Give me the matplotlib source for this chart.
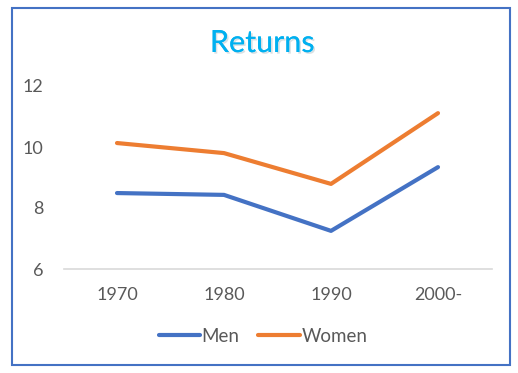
import matplotlib.pyplot as plt
import matplotlib.patheffects as pe
from matplotlib.patches import Rectangle

# data
periods = ["1970", "1980", "1990", "2000-"]
men = [8.49, 8.43, 7.25, 9.34]
women = [10.13, 9.80, 8.79, 11.11]

plt.rcParams['font.family'] = ['Lato', 'DejaVu Sans']

fig = plt.figure(figsize=(5.18, 3.73), dpi=100)
ax = fig.add_axes([63.5 / 518, 1 - 269 / 373, 428 / 518, 183 / 373])

x = range(len(periods))
ax.plot(x, men, color='#4472C4', lw=3, label='Men', solid_capstyle='round')
ax.plot(x, women, color='#ED7D31', lw=3, label='Women', solid_capstyle='round')

ax.set_xlim(-0.5, 3.5)
ax.set_ylim(6, 12)
ax.set_yticks([6, 8, 10, 12])
ax.set_xticks(list(x))
ax.set_xticklabels(periods)
for s in ['top', 'right', 'left']:
    ax.spines[s].set_visible(False)
ax.spines['bottom'].set_color('#D9D9D9')
ax.spines['bottom'].set_linewidth(1.2)
ax.tick_params(length=0, labelsize=13, labelcolor='#595959')
ax.tick_params(axis='y', pad=14.5)
ax.tick_params(axis='x', pad=13)

fig.text(262 / 518, 1 - 43 / 373, 'Returns', color='#00B0F0', fontsize=22,
         ha='center', va='center',
         path_effects=[pe.withSimplePatchShadow(offset=(1.2, -1.2), alpha=0.15), pe.Normal()])

leg = fig.legend(loc='center', bbox_to_anchor=(263 / 518, 1 - 336 / 373), ncol=2,
                 frameon=False, fontsize=13.5, handlelength=2.2, handletextpad=0.1,
                 columnspacing=1.0)
for t in leg.get_texts():
    t.set_color('#595959')

fig.patches.append(Rectangle((12 / 518, 1 - 365 / 373), 498 / 518, 357 / 373,
                             transform=fig.transFigure, fill=False,
                             edgecolor='#4472C4', lw=1.5))

fig.savefig('out.png', dpi=100)
